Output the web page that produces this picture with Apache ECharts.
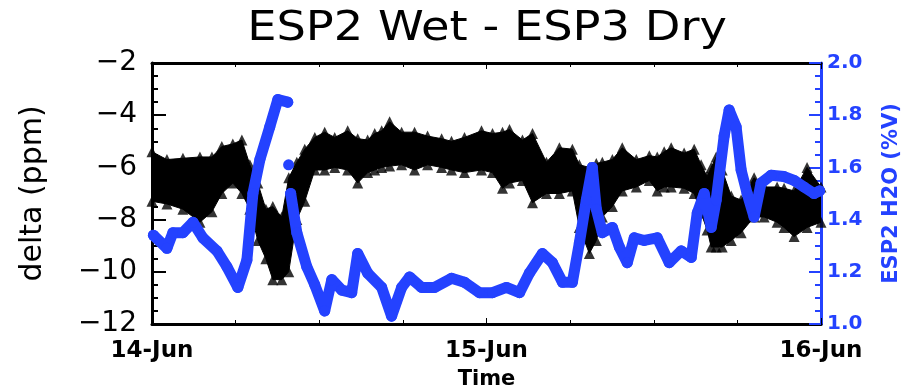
<!DOCTYPE html>
<html>
<head>
<meta charset="utf-8">
<script src="https://cdn.jsdelivr.net/npm/echarts@6/dist/echarts.min.js"></script>
<style>html,body{margin:0;padding:0;background:#fff}#c{width:906px;height:389px}</style>
</head>
<body>
<div id="c"></div>
<script>
// Hours since 14-Jun 00:00
const xTickLabels = ['14-Jun', '15-Jun', '16-Jun'];
const titleText = 'ESP2 Wet - ESP3 Dry';

// Black triangles (delta, ppm): cloud envelope, upper and lower edges
const bandT = [0,1.07,2.22,3.44,4.30,5.01,5.80,6.45,7.02,7.59,8.17,8.67,9.31,9.81,10.39,10.96,11.68,12.39,13.11,14.04,14.76,15.47,15.98,16.48,17.05,17.91,18.84,19.77,20.78,21.49,22.42,23.64,24.43,25.15,25.65,26.58,27.30,28.30,29.23,30.16,30.66,31.38,31.88,32.31,33.03,33.74,34.75,35.68,36.25,36.75,37.25,38.18,38.90,39.40,39.83,40.12,40.48,40.91,41.56,42.27,43.20,43.92,44.85,45.35,46.07,47.00,48.00];
const deltaUpper = [-5.4,-5.7,-5.65,-5.6,-5.6,-5.2,-5.1,-4.95,-5.9,-6.6,-7.6,-7.5,-7.9,-6.4,-5.8,-5.3,-4.85,-4.65,-4.85,-4.6,-4.9,-4.95,-4.7,-4.6,-4.25,-4.65,-4.65,-4.8,-4.9,-5.0,-4.85,-4.6,-4.7,-4.65,-4.55,-4.95,-4.7,-5.8,-5.25,-5.3,-5.9,-6.0,-5.85,-5.8,-5.7,-5.25,-5.7,-5.55,-5.6,-5.4,-5.25,-5.45,-5.3,-5.9,-6.35,-6.0,-5.6,-6.1,-7.1,-7.25,-6.4,-6.75,-6.75,-6.8,-6.9,-6.0,-6.75];
const deltaLower = [-7.3,-7.4,-7.6,-8.1,-7.7,-7.0,-6.6,-7.0,-7.6,-8.8,-9.5,-10.3,-10.3,-10.0,-8.0,-7.3,-6.1,-6.1,-6.0,-6.1,-6.6,-6.2,-6.1,-6.0,-5.95,-5.9,-6.1,-5.9,-6.0,-6.1,-6.2,-6.1,-6.2,-6.8,-6.6,-6.5,-7.35,-7.0,-7.0,-6.9,-8.3,-9.3,-8.8,-7.9,-7.5,-6.9,-6.75,-6.5,-6.9,-6.75,-6.75,-6.8,-7.0,-7.75,-8.4,-9.05,-9.05,-9.05,-8.8,-8.5,-7.9,-7.9,-8.1,-8.3,-8.65,-8.3,-8.1];

// Blue circles: ESP2 H2O (%V); null = gap
const h2oT = [0.1,1.07,1.5,2.22,2.94,3.65,4.66,5.37,6.16,6.81,7.24,7.74,8.45,9.03,9.74,9.76,9.8,9.84,9.95,10.39,11.10,11.68,12.39,12.90,13.61,14.33,14.76,15.47,16.48,17.19,17.91,18.48,19.34,20.28,21.49,22.42,23.50,24.43,25.43,26.37,27.08,28.01,28.73,29.45,30.16,30.66,31.16,31.59,31.88,32.31,33.03,33.53,34.10,34.60,35.32,36.25,37.11,37.97,38.69,39.12,39.62,40.12,40.48,41.05,41.41,41.91,42.27,42.70,43.20,43.70,44.42,45.35,46.07,46.78,47.50,47.9];
const h2oV = [1.34,1.29,1.35,1.35,1.39,1.33,1.28,1.22,1.14,1.245,1.50,1.63,1.755,1.86,1.85,null,1.61,null,1.50,1.35,1.22,1.15,1.05,1.17,1.13,1.12,1.27,1.195,1.14,1.03,1.14,1.18,1.14,1.14,1.175,1.16,1.12,1.12,1.14,1.12,1.195,1.27,1.235,1.16,1.16,1.31,1.475,1.60,1.44,1.35,1.37,1.295,1.235,1.33,1.32,1.33,1.235,1.28,1.255,1.425,1.50,1.37,1.475,1.72,1.82,1.755,1.59,1.50,1.41,1.54,1.57,1.565,1.55,1.525,1.50,1.51];

const BLUE = '#2442ff';
const FONT = 'DejaVu Sans';

const lowerData = bandT.map((t, i) => [t, deltaLower[i]]);
const upperData = bandT.map((t, i) => [t, deltaUpper[i]]);
const h2oData = h2oT.map((t, i) => [t, h2oV[i] === null ? '-' : h2oV[i]]);

function renderBand(params, api) {
  if (params.dataIndex !== 0) return null;
  const pts = [];
  for (let i = 0; i < bandT.length; i++) pts.push(api.coord([bandT[i], deltaUpper[i]]));
  for (let i = bandT.length - 1; i >= 0; i--) pts.push(api.coord([bandT[i], deltaLower[i]]));
  return {
    type: 'polygon',
    shape: {points: pts},
    style: {fill: '#000', stroke: '#000', lineWidth: 1}
  };
}

const chart = echarts.init(document.getElementById('c'), null, {renderer: 'canvas'});
chart.setOption({
  animation: false,
  backgroundColor: '#fff',
  graphic: [{
    type: 'text', x: 487, y: 29, scaleX: 1.13, silent: true,
    style: {
      text: titleText, fill: '#000',
      font: 'normal 41px "DejaVu Sans"',
      align: 'center', verticalAlign: 'middle'
    }
  }],
  grid: {left: 152, right: 85, top: 63, bottom: 65, containLabel: false, outerBoundsMode: 'none'},
  xAxis: [{
    type: 'value', min: 0, max: 48, interval: 24,
    name: 'Time', nameLocation: 'middle', nameGap: 45,
    nameTextStyle: {fontFamily: FONT, fontSize: 21, fontWeight: 'bold', color: '#000'},
    axisLine: {onZero: false, lineStyle: {color: '#000', width: 3}},
    axisTick: {inside: true, length: 6, lineStyle: {color: '#000', width: 1}},
    minorTick: {show: true, splitNumber: 4, length: 4, lineStyle: {color: '#000', width: 1}},
    splitLine: {show: false},
    axisLabel: {
      margin: 16, fontFamily: FONT, fontSize: 23, fontWeight: 'bold', color: '#000',
      formatter: v => xTickLabels[Math.round(v / 24)]
    }
  }, {
    type: 'value', min: 0, max: 48, interval: 24, position: 'top',
    axisLine: {onZero: false, lineStyle: {color: '#000', width: 3}},
    axisTick: {inside: true, length: 6, lineStyle: {color: '#000', width: 1}},
    minorTick: {show: true, splitNumber: 4, length: 4, lineStyle: {color: '#000', width: 1}},
    splitLine: {show: false},
    axisLabel: {show: false}
  }],
  yAxis: [{
    type: 'value', min: -12, max: -2, interval: 2,
    name: 'delta (ppm)', nameLocation: 'middle', nameGap: 104, nameRotate: 90,
    nameTextStyle: {fontFamily: FONT, fontSize: 30, color: '#000'},
    axisLine: {show: true, onZero: false, lineStyle: {color: '#000', width: 3}},
    axisTick: {inside: true, length: 14, lineStyle: {color: '#000', width: 2}},
    minorTick: {show: true, splitNumber: 4, length: 6, lineStyle: {color: '#000', width: 2}},
    splitLine: {show: false},
    axisLabel: {
      margin: 15, fontFamily: FONT, fontSize: 28, color: '#000',
      formatter: v => String(v).replace('-', '\u2212')
    }
  }, {
    type: 'value', min: 1.0, max: 2.0, interval: 0.2, position: 'right',
    name: 'ESP2 H2O (%V)', nameLocation: 'middle', nameGap: 60, nameRotate: 90,
    nameTextStyle: {fontFamily: FONT, fontSize: 21, fontWeight: 'bold', color: BLUE},
    axisLine: {show: true, onZero: false, lineStyle: {color: BLUE, width: 3}},
    axisTick: {inside: true, length: 12, lineStyle: {color: BLUE, width: 2}},
    minorTick: {show: true, splitNumber: 4, length: 6, lineStyle: {color: BLUE, width: 2}},
    splitLine: {show: false},
    axisLabel: {
      margin: 6, fontFamily: FONT, fontSize: 20, fontWeight: 'bold', color: BLUE,
      formatter: v => v.toFixed(1)
    }
  }],
  series: [{
    name: 'delta band', type: 'custom', renderItem: renderBand,
    data: upperData, encode: {x: 0, y: 1},
    xAxisIndex: 0, yAxisIndex: 0, clip: true, z: 2, silent: true
  }, {
    name: 'delta upper', type: 'scatter', data: upperData,
    yAxisIndex: 0, xAxisIndex: 0,
    symbol: 'triangle', symbolSize: 11,
    itemStyle: {color: '#000'}, z: 3, silent: true
  }, {
    name: 'delta lower', type: 'scatter', data: lowerData,
    yAxisIndex: 0, xAxisIndex: 0,
    symbol: 'triangle', symbolSize: 11,
    itemStyle: {color: '#000'}, z: 3, silent: true
  }, {
    name: 'ESP2 H2O', type: 'line', data: h2oData,
    yAxisIndex: 1, xAxisIndex: 0, connectNulls: false,
    symbol: 'circle', symbolSize: 11, showSymbol: true,
    itemStyle: {color: BLUE},
    lineStyle: {color: BLUE, width: 11, cap: 'round', join: 'round'},
    z: 5, silent: true
  }]
});
</script>
</body>
</html>
